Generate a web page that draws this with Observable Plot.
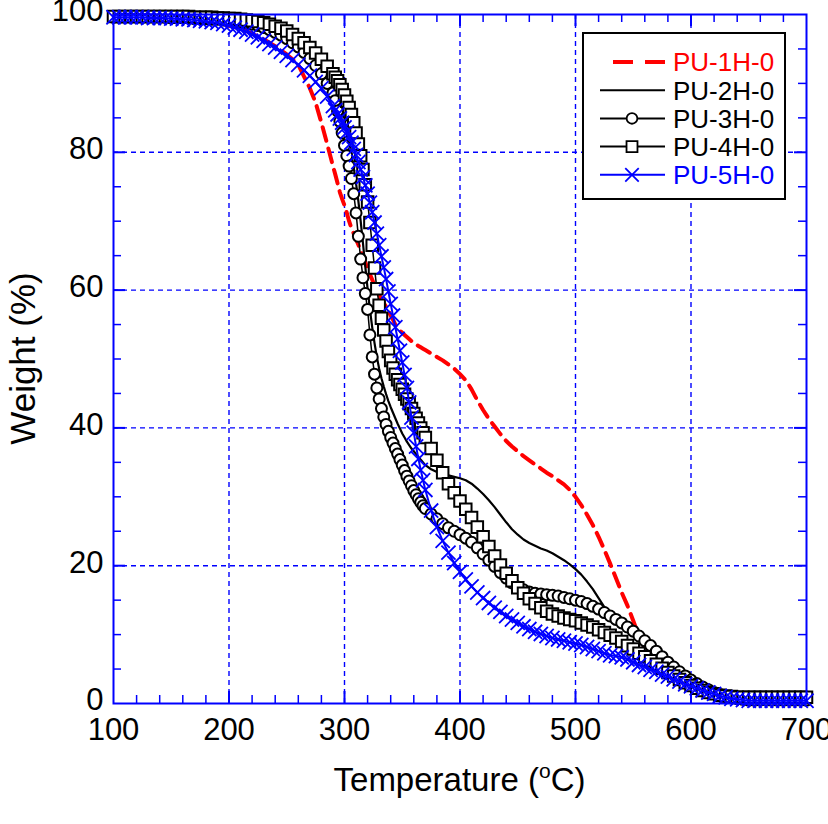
<!DOCTYPE html>
<html>
<head>
<meta charset="utf-8">
<script src="https://cdn.jsdelivr.net/npm/d3@7"></script>
<script src="https://cdn.jsdelivr.net/npm/@observablehq/plot@0.6"></script>
<style>
  html, body { margin: 0; padding: 0; background: white; }
  #chart { position: relative; width: 828px; height: 824px; }
</style>
</head>
<body>
<div id="chart"></div>
<script>
// ---- Sampling temperatures (°C) ----
const tempsA = [100,105,110,115,120,125,130,135,140,145,150,155,160,165,170,175,180,185,190,195,200,205,210,215,220,225,230,235,240,245,250,255,260,265,270,275,280,285];
const tempsB = [290,292,294,296,298,300,302,304,306,308,310,312,314,316,318,320,322,324,326,328,330,332,334,336,338,340,342,344,346,348,350,352,354,356,358,360,362,364,366,368,370];
const tempsC = [375,380,385,390,395,400,405,410,415,420,425,430,435,440,445,450,455,460,465,470,475,480,485,490,495,500,505,510,515,520,525,530,535,540,545,550,555,560,565,570,575,580,585,590,595,600,605,610,615,620,625,630,635,640,645,650,655,660,665,670,675,680,685,690,695,700];
const temps = [...tempsA, ...tempsB, ...tempsC];

// ---- Weight (%) per series ----
const pu1 = [
  99.6,99.6,99.6,99.6,99.6,99.6,99.5,99.5,99.5,99.5,99.4,99.4,99.3,99.3,99.2,99.1,99.0,98.9,98.8,98.6,98.4,98.2,97.9,97.6,97.2,96.8,96.4,95.9,95.4,94.8,94.2,93.5,92.7,91.0,89.3,87.2,84.3,81.2,
  78.0,76.8,75.5,74.2,73.2,72.3,71.2,70.0,69.0,68.2,67.4,66.6,65.7,64.8,64.0,63.1,62.3,61.5,60.7,60.0,59.3,58.7,58.1,57.6,57.0,56.3,55.7,55.0,54.5,54.1,53.8,53.5,53.2,52.9,52.6,52.3,52.1,51.9,51.7,51.5,51.3,
  50.8,50.3,49.8,49.2,48.6,47.8,46.9,45.6,44.0,42.6,41.3,40.2,39.1,38.1,37.3,36.6,35.9,35.3,34.7,34.1,33.5,33.0,32.4,31.8,31.0,30.0,28.8,27.4,25.9,24.2,22.3,20.3,18.2,16.1,14.2,12.0,9.8,8.0,6.8,5.8,5.0,4.3,3.7,3.1,2.6,2.2,1.8,1.5,1.2,1.0,0.8,0.7,0.6,0.5,0.5,0.4,0.4,0.4,0.4,0.4,0.4,0.4,0.4,0.4,0.4,0.4
];
const pu2 = [
  99.7,99.7,99.7,99.7,99.7,99.7,99.7,99.7,99.7,99.7,99.6,99.6,99.6,99.6,99.6,99.5,99.5,99.5,99.4,99.4,99.3,99.3,99.2,99.1,99.0,98.8,98.6,98.4,98.1,97.8,97.4,96.9,96.4,95.7,94.9,93.9,92.7,91.3,
  89.6,88.8,87.9,86.9,85.8,84.6,83.2,81.6,79.8,77.8,75.5,72.9,70.0,66.8,63.4,60.2,57.2,54.6,52.3,50.3,48.6,47.2,46.0,44.9,43.9,43.0,42.2,41.4,40.6,39.9,39.2,38.6,38.0,37.5,37.0,36.6,36.2,35.8,35.4,35.0,34.6,
  34.0,33.6,33.3,33.1,32.9,32.7,32.4,31.9,31.2,30.4,29.5,28.5,27.4,26.3,25.3,24.5,23.8,23.3,22.9,22.5,22.2,21.8,21.3,20.8,20.2,19.5,18.7,17.7,16.6,15.3,14.0,12.9,12.0,11.2,10.5,9.8,9.1,8.4,7.6,6.8,6.0,5.2,4.4,3.6,2.9,2.3,1.7,1.3,0.9,0.7,0.5,0.4,0.3,0.3,0.3,0.3,0.3,0.3,0.3,0.3,0.3,0.3,0.3,0.3,0.3,0.3
];
const pu3 = [
  99.6,99.6,99.6,99.6,99.6,99.6,99.6,99.6,99.6,99.6,99.5,99.5,99.5,99.5,99.4,99.4,99.4,99.3,99.3,99.2,99.1,99.0,98.9,98.8,98.6,98.4,98.1,97.8,97.4,97.0,96.5,95.9,95.3,94.5,93.6,92.6,91.4,90.0,
  88.6,87.5,86.0,84.5,82.8,81.0,79.5,78.0,76.2,74.0,71.2,67.8,64.5,61.8,59.5,57.2,53.5,50.3,47.8,45.8,44.2,42.8,41.6,40.5,39.5,38.6,37.8,37.0,36.2,35.4,34.6,33.8,33.0,32.3,31.6,30.9,30.3,29.7,29.2,28.7,28.3,
  27.5,26.8,26.1,25.5,25.0,24.5,24.0,23.4,22.6,21.7,20.8,19.9,19.0,18.2,17.5,16.9,16.5,16.2,16.0,15.9,15.8,15.7,15.6,15.4,15.2,15.0,14.8,14.5,14.1,13.7,13.2,12.7,12.2,11.7,11.1,10.5,9.8,9.1,8.4,7.6,6.8,6.0,5.3,4.6,4.0,3.4,2.9,2.4,2.0,1.6,1.3,1.0,0.8,0.7,0.6,0.5,0.5,0.5,0.5,0.5,0.5,0.5,0.5,0.5,0.5,0.5
];
const pu4 = [
  99.7,99.7,99.7,99.7,99.7,99.7,99.7,99.7,99.7,99.7,99.7,99.7,99.7,99.7,99.6,99.6,99.6,99.6,99.5,99.5,99.4,99.4,99.3,99.2,99.1,99.0,98.8,98.6,98.3,98.0,97.6,97.1,96.5,95.9,95.2,94.4,93.5,92.5,
  91.4,90.9,90.4,89.8,89.1,88.3,87.4,86.5,85.5,84.3,82.8,81.2,79.5,77.5,75.3,72.8,69.8,66.5,63.2,60.2,57.8,55.9,54.2,52.6,51.1,49.8,48.7,47.8,47.0,46.3,45.6,44.9,44.2,43.5,42.8,42.1,41.4,40.7,40.0,39.3,38.6,
  37.0,35.3,33.5,31.9,30.6,29.4,28.2,27.0,25.6,24.2,22.8,21.4,20.1,18.9,17.8,16.8,16.0,15.2,14.5,13.9,13.4,13.0,12.7,12.4,12.2,12.0,11.7,11.4,11.1,10.7,10.3,9.9,9.5,9.0,8.4,7.9,7.3,6.8,6.2,5.7,5.1,4.5,4.0,3.5,3.0,2.6,2.2,1.9,1.6,1.4,1.2,1.1,1.0,0.9,0.9,0.9,0.9,0.9,0.9,0.9,0.9,0.9,0.9,0.9,0.9,0.9
];
const pu5 = [
  99.6,99.6,99.6,99.6,99.6,99.6,99.5,99.5,99.5,99.5,99.4,99.4,99.3,99.3,99.2,99.1,99.0,98.9,98.8,98.6,98.4,98.1,97.8,97.5,97.1,96.7,96.2,95.7,95.2,94.6,94.0,93.4,92.7,91.9,91.1,90.2,89.3,88.1,
  86.7,86.1,85.5,84.9,84.3,83.6,82.9,82.2,81.4,80.5,79.6,78.6,77.5,76.4,75.2,74.0,72.7,71.3,69.8,68.2,66.5,64.9,63.3,61.6,59.8,58.0,56.3,54.6,52.9,51.2,49.5,47.7,45.8,43.7,41.5,39.3,37.3,35.5,33.9,32.4,31.0,
  28.0,25.6,23.6,21.9,20.4,19.1,18.0,17.0,16.1,15.3,14.6,13.9,13.3,12.7,12.2,11.7,11.2,10.8,10.4,10.1,9.8,9.5,9.3,9.1,8.9,8.7,8.5,8.2,7.9,7.6,7.3,7.0,6.9,6.7,6.4,6.0,5.6,5.3,4.9,4.6,4.2,3.9,3.5,3.2,2.8,2.5,2.2,1.9,1.6,1.4,1.1,0.9,0.7,0.6,0.5,0.4,0.4,0.4,0.4,0.4,0.4,0.4,0.4,0.4,0.4,0.4
];

const seriesNames = ["PU-1H-0","PU-2H-0","PU-3H-0","PU-4H-0","PU-5H-0"];
const xTicks = [100,200,300,400,500,600,700];
const yTicks = [0,20,40,60,80,100];
const xGrid = [200,300,400,500,600];
const yGrid = [20,40,60,80];
const xMinor = [120,140,160,180,220,240,260,280,320,340,360,380,420,440,460,480,520,540,560,580,620,640,660,680];
const yMinor = [5,10,15,25,30,35,45,50,55,65,70,75,85,90,95];

[pu1,pu2,pu3,pu4,pu5].forEach((s,i) => {
  if (s.length !== temps.length) throw new Error(seriesNames[i] + " length " + s.length + " != " + temps.length);
});

const rows = s => temps.map((t, i) => ({T: t, W: s[i]}));
const data1 = rows(pu1), data2 = rows(pu2), data3 = rows(pu3), data4 = rows(pu4), data5 = rows(pu5);

const W = 828, H = 824;
const mL = 113, mR = 22, mT = 14, mB = 121;
const plotW = W - mL - mR, plotH = H - mT - mB;
const BLUE = "#0000ff";
const FONT = "'Liberation Sans', Arial, Helvetica, sans-serif";

const chart = Plot.plot({
  width: W, height: H,
  marginLeft: mL, marginRight: mR, marginTop: mT, marginBottom: mB,
  x: {domain: [100, 700]},
  y: {domain: [0, 100]},
  style: {fontFamily: FONT, fontSize: "31px", color: "black", background: "white", overflow: "visible"},
  marks: [
    Plot.ruleX(xGrid, {stroke: BLUE, strokeWidth: 1.4, strokeDasharray: "5,4"}),
    Plot.ruleY(yGrid, {stroke: BLUE, strokeWidth: 1.4, strokeDasharray: "5,4"}),
    // inward ticks on all four sides
    Plot.tickX(xMinor, {x: d => d, stroke: BLUE, strokeWidth: 1.5, insetTop: plotH - 8}),
    Plot.tickX(xMinor, {x: d => d, stroke: BLUE, strokeWidth: 1.5, insetBottom: plotH - 8}),
    Plot.tickX(xGrid, {x: d => d, stroke: BLUE, strokeWidth: 2, insetTop: plotH - 12}),
    Plot.tickX(xGrid, {x: d => d, stroke: BLUE, strokeWidth: 2, insetBottom: plotH - 12}),
    Plot.tickY(yMinor, {y: d => d, stroke: BLUE, strokeWidth: 1.5, insetRight: plotW - 8}),
    Plot.tickY(yMinor, {y: d => d, stroke: BLUE, strokeWidth: 1.5, insetLeft: plotW - 8}),
    Plot.tickY(yGrid, {y: d => d, stroke: BLUE, strokeWidth: 2, insetRight: plotW - 12}),
    Plot.tickY(yGrid, {y: d => d, stroke: BLUE, strokeWidth: 2, insetLeft: plotW - 12}),
    Plot.axisX({ticks: xTicks, tickSize: 0, tickPadding: 14, label: null, fontSize: 31}),
    Plot.axisY({ticks: yTicks, tickSize: 0, tickPadding: 10, dy: -3, label: null, fontSize: 31}),
    // series
    Plot.line(data1, {x: "T", y: "W", stroke: "#ff0000", strokeWidth: 4, strokeDasharray: "14,8"}),
    Plot.line(data2, {x: "T", y: "W", stroke: "black", strokeWidth: 2.2}),
    Plot.line(data3, {x: "T", y: "W", stroke: "black", strokeWidth: 1.5}),
    Plot.dot(data3, {x: "T", y: "W", symbol: "circle", r: 5.5, stroke: "black", strokeWidth: 2, fill: "white"}),
    Plot.line(data4, {x: "T", y: "W", stroke: "black", strokeWidth: 1.5}),
    Plot.dot(data4, {x: "T", y: "W", symbol: "square", r: 6.5, stroke: "black", strokeWidth: 2, fill: "white"}),
    Plot.line(data5, {x: "T", y: "W", stroke: BLUE, strokeWidth: 2}),
    Plot.dot(data5, {x: "T", y: "W", symbol: "times", r: 6.5, stroke: BLUE, strokeWidth: 1.8}),
    Plot.frame({stroke: BLUE, strokeWidth: 2})
  ]
});
document.getElementById("chart").appendChild(chart);

// ---- axis titles and legend (layout overlay) ----
const svg = d3.select(chart);
const xt = svg.append("text")
  .attr("x", mL + plotW / 2).attr("y", 791)
  .attr("text-anchor", "middle")
  .style("font-family", FONT).style("font-size", "33px").attr("fill", "black");
xt.append("tspan").text("Temperature (");
xt.append("tspan").text("o").style("font-size", "21px").attr("dy", -13);
xt.append("tspan").text("C)").attr("dy", 13);

svg.append("text")
  .attr("transform", `translate(35, ${mT + plotH / 2}) rotate(-90)`)
  .attr("text-anchor", "middle")
  .style("font-family", FONT).style("font-size", "35px").attr("fill", "black")
  .text("Weight (%)");

const lg = svg.append("g");
lg.append("rect").attr("x", 583).attr("y", 33).attr("width", 202).attr("height", 166)
  .attr("fill", "white").attr("stroke", "black").attr("stroke-width", 2);
const legendItems = [
  {name: seriesNames[0], color: "#ff0000", dash: "20,12", w: 4, sym: null},
  {name: seriesNames[1], color: "black", dash: null, w: 2, sym: null},
  {name: seriesNames[2], color: "black", dash: null, w: 2, sym: d3.symbolCircle},
  {name: seriesNames[3], color: "black", dash: null, w: 2, sym: d3.symbolSquare},
  {name: seriesNames[4], color: BLUE, dash: null, w: 2, sym: d3.symbolTimes}
];
legendItems.forEach((it, i) => {
  const y = 62 + i * 28.2;
  const ln = lg.append("line").attr("x1", it.dash ? 613 : 600).attr("x2", 665)
    .attr("y1", y).attr("y2", y).attr("stroke", it.color).attr("stroke-width", it.w);
  if (it.dash) ln.attr("stroke-dasharray", it.dash);
  if (it.sym) {
    lg.append("path").attr("d", d3.symbol(it.sym, it.sym === d3.symbolCircle ? 90 : 120)())
      .attr("transform", `translate(632, ${y})`)
      .attr("fill", it.sym === d3.symbolTimes ? "none" : "white")
      .attr("stroke", it.color).attr("stroke-width", 1.8);
  }
  lg.append("text").attr("x", 673).attr("y", y).attr("dy", "0.36em")
    .attr("text-anchor", "start")
    .style("font-family", FONT).style("font-size", "26px").attr("fill", it.color)
    .text(it.name);
});
</script>
</body>
</html>
